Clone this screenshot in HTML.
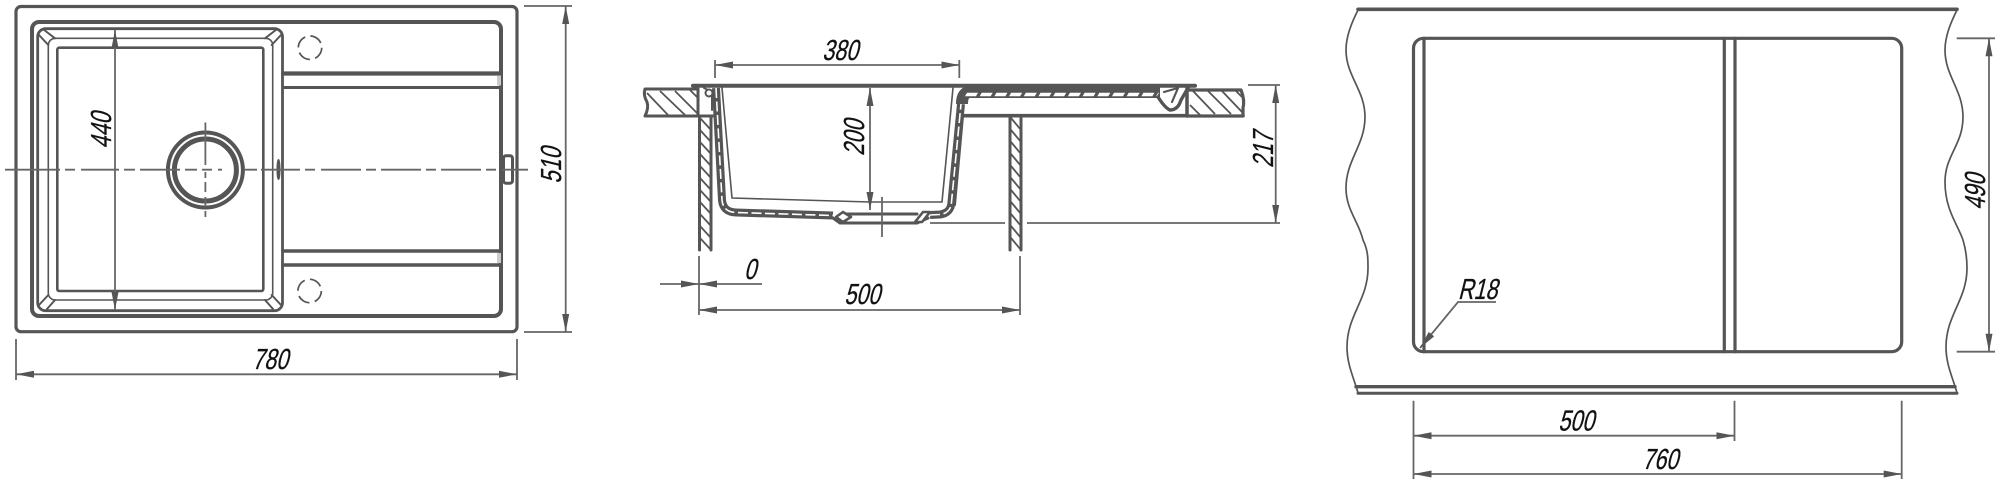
<!DOCTYPE html>
<html><head><meta charset="utf-8"><style>
html,body{margin:0;padding:0;background:#fff;width:2000px;height:485px;overflow:hidden}
svg{display:block}
text{font-family:"Liberation Sans",sans-serif;font-size:29px;fill:#111;stroke:#111;stroke-width:.3;text-anchor:middle}
.k{fill:none;stroke:#555;stroke-linecap:round;stroke-linejoin:round}
.d{fill:none;stroke:#666;stroke-width:1.8}
</style></head><body>
<svg width="2000" height="485" viewBox="0 0 2000 485" xmlns="http://www.w3.org/2000/svg">
<defs>
<marker id="a" markerUnits="userSpaceOnUse" markerWidth="20" markerHeight="10" refX="18" refY="5" orient="auto-start-reverse"><path d="M0,1.5L18,5L0,8.5z" fill="#555"/></marker>
</defs>

<!-- LEFT: plan view -->
<g class="k">
<rect x="16" y="6.5" width="501" height="325.2" rx="5" stroke-width="3.2"/>
<rect x="32" y="22" width="469" height="294" rx="7" stroke-width="4"/>
<rect x="37.7" y="28.7" width="244.8" height="282" rx="8" stroke-width="2.8" fill="#fff"/>
<rect x="48.3" y="38.3" width="224.4" height="261.7" rx="7" stroke-width="1.6"/>
<rect x="57.3" y="47.7" width="206" height="243.3" rx="2" stroke-width="2.6"/>
<path d="M39,35L48.3,45M43.5,29.5L55,38.3M281,35L271.7,45M276.5,29.5L265,38.3M39,305L48.3,295M47,309L55,300M281,305L271.7,295M273,309L265,300" stroke-width="2"/>
<path d="M283,73.5H500" stroke-width="4.2"/>
<path d="M283,87.5H500" stroke-width="3"/>
<path d="M283,251H500" stroke-width="3.6"/>
<path d="M283,265H500" stroke-width="3.6"/>
<rect x="497" y="75.5" width="4" height="10" fill="#ccc" stroke="none"/>
<rect x="497" y="253" width="4" height="10" fill="#ccc" stroke="none"/>
<circle cx="205.4" cy="170" r="37.5" stroke-width="4"/>
<circle cx="205.4" cy="170" r="31" stroke-width="5"/>
<circle cx="310" cy="47.7" r="11.7" stroke-width="1.7" stroke-dasharray="13 5.4" stroke-linecap="butt"/>
<circle cx="309.6" cy="291" r="11.7" stroke-width="1.7" stroke-dasharray="13 5.4" stroke-linecap="butt"/>
<rect x="503.5" y="155.7" width="9" height="27.5" rx="2.5" stroke-width="3" fill="#fff"/>
<ellipse cx="278.5" cy="169.5" rx="1.5" ry="10" fill="#555" stroke-width="1"/>
</g>
<g class="d" stroke-width="1.8">
<path d="M5,169.7H60M65,169.7H75M81,169.7H119M124,169.7H135M140,169.7H180M185,169.7H197M202,169.7H212M218,169.7H222M245,169.7H257M261,169.7H300M305,169.7H315M321,169.7H361M366,169.7H376M381,169.7H421M426,169.7H436M441,169.7H481M486,169.7H496M502,169.7H528"/>
<path d="M205.4,122.5V165M205.4,172V178M205.4,182V192M205.4,197V207M205.4,211V217"/>
<path d="M115,30V310" marker-start="url(#a)" marker-end="url(#a)"/>
<path d="M524,6H572M524,332H572"/>
<path d="M565.7,6V332" marker-start="url(#a)" marker-end="url(#a)"/>
<path d="M16,339V380M517,339V380"/>
<path d="M16,374.3H517" marker-start="url(#a)" marker-end="url(#a)"/>
</g>
<text transform="translate(111,130.7) rotate(-90) skewX(-14) scale(.74,1)">440</text>
<text transform="translate(561,165.7) rotate(-90) skewX(-14) scale(.74,1)">510</text>
<text transform="translate(270,369) skewX(-14) scale(.74,1)">780</text>

<!-- MIDDLE: section -->
<g class="k">
<path d="M693,85.7H1195" stroke-width="4"/>
<!-- left counter -->
<path d="M645,89H698V116H645Q649,108 647,102Q643,95 645,89z" stroke-width="3" fill="#fff"/>
<path d="M647,93L668,115M660,91L685,115M675,91L698,114M690,90L698,98" stroke-width="1.8" stroke-linecap="butt"/>
<path d="M698,89V116H714" stroke-width="3"/>
<path d="M704,88L712,92L712,110" stroke-width="2"/>
<circle cx="709" cy="93" r="3.5" stroke-width="2" fill="#fff"/>
<!-- left wall -->
<path d="M699.5,118V250M711,118V250" stroke-width="3"/>
<path d="M700,118L711,130M700,130L711,142M700,142L711,154M700,154L711,166M700,166L711,178M700,178L711,190M700,190L711,202M700,202L711,214M700,214L711,226M700,226L711,238M700,238L711,250" stroke-width="1.8" stroke-linecap="butt"/>
<!-- right wall -->
<path d="M1010,118V250M1021,118V250" stroke-width="3"/>
<path d="M1011,118L1021,130M1011,130L1021,142M1011,142L1021,154M1011,154L1021,166M1011,166L1021,178M1011,178L1021,190M1011,190L1021,202M1011,202L1021,214M1011,214L1021,226M1011,226L1021,238M1011,238L1021,250" stroke-width="1.8" stroke-linecap="butt"/>
<!-- bowl wall -->
<path d="M716,88L722,200Q723,212 736,212.5L833,215.5" stroke-width="8" stroke-linecap="butt"/>
<path d="M716,88L722,200Q723,212 736,212.5L833,215.5" stroke="#fff" stroke-width="1.6" stroke-dasharray="10 3.5" stroke-linecap="butt"/>
<path d="M930,215L940,214.5Q951,213 951.5,202L961,104" stroke-width="8" stroke-linecap="butt"/>
<path d="M930,215L940,214.5Q951,213 951.5,202L961,104" stroke="#fff" stroke-width="1.6" stroke-dasharray="10 3.5" stroke-linecap="butt"/>
<!-- drain -->
<path d="M846,214H917" stroke-width="3"/>
<path d="M833,218L840,223H917L928,218" stroke-width="3"/>
<path d="M836,217L843,212L851,217L843,222z" fill="#fff" stroke-width="2.6"/>
<path d="M915,222L923,212H930L922,222z" fill="#fff" stroke-width="2.6"/>
<!-- thin inner -->
<path d="M722,88L732,198L870,202H942L953,88" stroke-width="1.6"/>
<!-- drainer -->
<path d="M962,104Q962,92 970,92H1160" stroke-width="12" stroke-linecap="butt"/>
<path d="M966,0H1158" transform="translate(0,94.5) skewX(-30)" stroke="#fff" stroke-width="3.6" stroke-dasharray="11 3.7" stroke-linecap="butt"/>
<path d="M1158,97Q1165,108 1170,110Q1178,110 1181,100L1188,88" stroke-width="3.4"/>
<path d="M1164,92L1178,88L1172,102" stroke-width="2.2" fill="#fff"/>
<path d="M963,115.7H1243" stroke-width="3.6"/>
<path d="M963,116L955,205" stroke-width="2"/>
<!-- right counter -->
<path d="M1187,90H1241Q1245,100 1243,108L1243,116H1187z" stroke-width="3.2" fill="#fff"/>
<path d="M1193,91L1215,114M1208,91L1231,114M1222,91L1242,112M1236,91L1242,97M1190,105L1200,115" stroke-width="1.8" stroke-linecap="butt"/>
<path d="M1187,88V116" stroke-width="3.4"/>
</g>
<g class="d">
<path d="M715,60V78M959.3,60V78"/>
<path d="M715,65H959.3" marker-start="url(#a)" marker-end="url(#a)"/>
<path d="M870,88V210" marker-start="url(#a)" marker-end="url(#a)"/>
<path d="M882,197V237"/>
<path d="M930,223H1005M1027,223H1280M1248,85H1280"/>
<path d="M1275.7,85V223" marker-start="url(#a)" marker-end="url(#a)"/>
<path d="M699,256V315M1020,256V315"/>
<path d="M699,310H1020" marker-start="url(#a)" marker-end="url(#a)"/>
<path d="M660,284H699" marker-end="url(#a)"/>
<path d="M699,284H762" marker-start="url(#a)"/>
</g>
<text transform="translate(840,60) skewX(-14) scale(.74,1)">380</text>
<text transform="translate(864,138) rotate(-90) skewX(-14) scale(.74,1)">200</text>
<text transform="translate(1273,150) rotate(-90) skewX(-14) scale(.74,1)">217</text>
<text transform="translate(750,279) skewX(-14) scale(.74,1)">0</text>
<text transform="translate(862,304) skewX(-14) scale(.74,1)">500</text>

<!-- RIGHT: cutout -->
<g class="k">
<path d="M1358,9.3H1957" stroke-width="3.6"/>
<path d="M1356,386.7H1955" stroke-width="3.4"/>
<path d="M1358,393.3H1957" stroke-width="3"/>
<path d="M1358,10C1352,22 1346,36 1346,50C1346,76 1365,90 1365,117C1365,145 1346,160 1346,188C1346,210 1359,222 1363,240C1368,250 1368,258 1368,268C1368,300 1347,315 1347,347C1347,365 1354,378 1358,393" stroke-width="1.7"/>
<path d="M1957,10C1951,22 1945,36 1945,50C1945,76 1963,90 1963,117C1963,145 1945,155 1945,182C1945,210 1958,225 1963,240C1966,250 1967,258 1967,268C1967,300 1946,315 1946,347C1946,365 1953,378 1957,393" stroke-width="1.7"/>
<rect x="1413.5" y="38.3" width="488.2" height="313.4" rx="10" stroke-width="3.2"/>
<path d="M1424,38.3V351.7" stroke-width="3.2"/>
<path d="M1724.3,38.3V351.7M1735,38.3V351.7" stroke-width="3.2"/>
</g>
<g class="d">
<path d="M1956.7,38.3H1995M1956.7,351.7H1995"/>
<path d="M1989,38.3V351.7" marker-start="url(#a)" marker-end="url(#a)"/>
<path d="M1413.5,400.7V479M1734.5,400.7V441M1901.7,400.7V479"/>
<path d="M1413.5,435.7H1734.5" marker-start="url(#a)" marker-end="url(#a)"/>
<path d="M1413.5,474H1901.7" marker-start="url(#a)" marker-end="url(#a)"/>
<path d="M1496,302H1458L1420,348" marker-end="url(#a)"/>
</g>
<text transform="translate(1985,192) rotate(-90) skewX(-14) scale(.74,1)">490</text>
<text transform="translate(1576,430.7) skewX(-14) scale(.74,1)">500</text>
<text transform="translate(1660,469) skewX(-14) scale(.74,1)">760</text>
<text transform="translate(1477.5,299) skewX(-14) scale(.74,1)">R18</text>
</svg>
</body></html>
